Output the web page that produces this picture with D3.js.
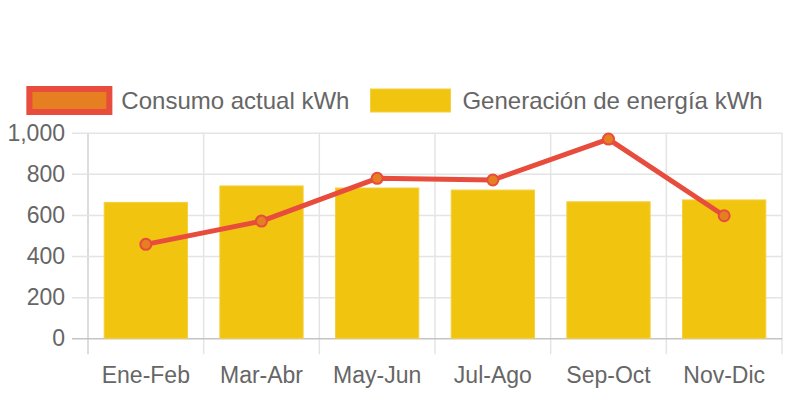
<!DOCTYPE html>
<meta charset="utf-8">
<style>
body { margin: 0; background: #fff; }
svg text { font-family: "Liberation Sans", Arial, Helvetica, sans-serif; fill: #666; font-size: 23px; }
</style>
<svg width="792" height="396"></svg>
<script src="https://d3js.org/d3.v7.min.js"></script>
<script>

var periods = ["Ene-Feb", "Mar-Abr", "May-Jun", "Jul-Ago", "Sep-Oct", "Nov-Dic"];
var consumo = [457, 570, 778, 770, 969, 596];
var generacion = [661, 741, 731, 721, 664, 673];
var yTicks = [0, 200, 400, 600, 800, 1000];
var seriesNames = ["Consumo actual kWh", "Generación de energía kWh"];

var svg = d3.select("svg"),
    width = +svg.attr("width"),
    plotLeft = 88, plotRight = 782, plotTop = 132.7, plotBottom = 338.3;

var x = d3.scaleBand().domain(periods).range([plotLeft, plotRight]).padding(0);
var y = d3.scaleLinear().domain([0, 1000]).range([plotBottom, plotTop]);

// vertical grid lines at band edges
var edges = periods.map(function(p) { return x(p); }).concat([plotRight]);
svg.append("g").selectAll("line")
    .data(edges)
  .enter().append("line")
    .attr("x1", function(d) { return d; })
    .attr("x2", function(d) { return d; })
    .attr("y1", plotTop)
    .attr("y2", plotBottom + 16)
    .attr("stroke", function(d, i) { return i == 0 ? "#d0d0d0" : "#e4e4e4"; })
    .attr("stroke-width", 1.5);

// y axis with horizontal grid
var yAxis = svg.append("g")
    .attr("transform", "translate(" + plotLeft + ",0)")
    .call(d3.axisLeft(y).tickValues(yTicks).tickFormat(d3.format(",")).tickSizeInner(-(plotRight - plotLeft)).tickSizeOuter(0).tickPadding(23));
yAxis.select(".domain").remove();
yAxis.selectAll(".tick line")
    .attr("x1", -16)
    .attr("stroke", function(d) { return d == 0 ? "#c4c4c4" : "#e4e4e4"; })
    .attr("stroke-width", 1.5);
yAxis.selectAll("text").attr("fill", "#666").style("font-size", "23px");

// x axis labels
var xAxis = svg.append("g")
    .attr("transform", "translate(0," + plotBottom + ")")
    .call(d3.axisBottom(x).tickSize(0).tickPadding(28));
xAxis.select(".domain").remove();
xAxis.selectAll("text").attr("fill", "#666").style("font-size", "23px");

// bars
var bw = x.bandwidth() * 0.72;
svg.append("g").selectAll("rect")
    .data(generacion)
  .enter().append("rect")
    .attr("x", function(d, i) { return x(periods[i]) + (x.bandwidth() - bw) / 2; })
    .attr("y", function(d) { return y(d); })
    .attr("width", bw)
    .attr("height", function(d) { return y(0) - y(d); })
    .attr("fill", "#f1c40f")
    .attr("stroke", "#f4d03f")
    .attr("stroke-width", 1);

// line
var line = d3.line()
    .x(function(d, i) { return x(periods[i]) + x.bandwidth() / 2; })
    .y(function(d) { return y(d); });

svg.append("path")
    .datum(consumo)
    .attr("d", line)
    .attr("fill", "none")
    .attr("stroke", "#e74c3c")
    .attr("stroke-width", 5)
    .attr("stroke-linejoin", "round");

svg.append("g").selectAll("circle")
    .data(consumo)
  .enter().append("circle")
    .attr("cx", function(d, i) { return x(periods[i]) + x.bandwidth() / 2; })
    .attr("cy", function(d) { return y(d); })
    .attr("r", 5.5)
    .attr("fill", "#e67e22")
    .attr("stroke", "#e74c3c")
    .attr("stroke-width", 2);

// legend
var legend = svg.append("g");
var items = legend.selectAll("g")
    .data(seriesNames)
  .enter().append("g");

items.append("rect")
    .attr("width", 80)
    .attr("height", 23)
    .attr("fill", function(d, i) { return i == 0 ? "#e67e22" : "#f1c40f"; })
    .attr("stroke", function(d, i) { return i == 0 ? "#e74c3c" : "#f4d03f"; })
    .attr("stroke-width", function(d, i) { return i == 0 ? 6 : 1; });

items.append("text")
    .attr("x", 92)
    .attr("y", 11.5)
    .attr("dy", "0.35em")
    .style("font-size", "24px")
    .text(function(d) { return d; });

var pos = 0, offsets = [];
items.each(function() {
  offsets.push(pos);
  pos += 92 + d3.select(this).select("text").node().getComputedTextLength() + 21;
});
var total = pos - 21;
var startX = width / 2 - total / 2;
items.attr("transform", function(d, i) { return "translate(" + (startX + offsets[i]) + ",89)"; });

</script>
